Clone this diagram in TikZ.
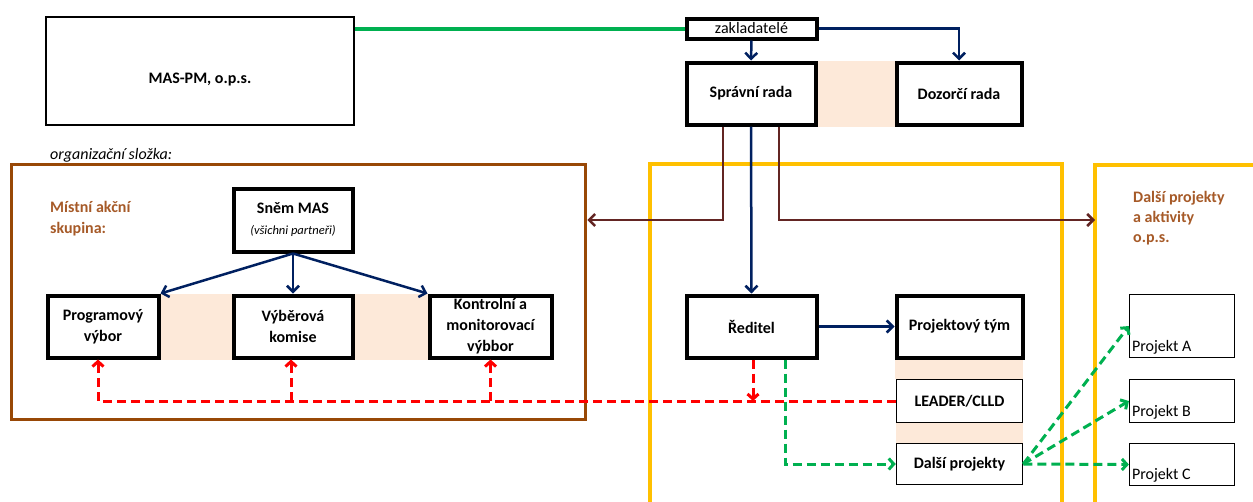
\documentclass[tikz,border=0pt]{standalone}
\usepackage{fontspec}
\setmainfont{Carlito}
\usetikzlibrary{arrows.meta,backgrounds}

\definecolor{navy}{RGB}{0,32,96}
\definecolor{boxbrown}{RGB}{152,72,6}
\definecolor{darkbrown}{RGB}{99,37,35}
\definecolor{headbrown}{RGB}{166,90,40}
\definecolor{gold}{RGB}{255,192,0}
\definecolor{peach}{RGB}{253,233,217}
\definecolor{mygreen}{RGB}{0,176,80}

\begin{document}
\begin{tikzpicture}[x=1pt,y=-1pt,
    box/.style={draw,line width=4pt,align=center,inner sep=0pt,font=\bfseries},
    thinbox/.style={draw,line width=1.5pt,inner sep=0pt,font=\bfseries},
    projbox/.style={draw,line width=1.2pt,minimum width=105pt,inner sep=0pt},
    navyline/.style={navy,line width=2.5pt,-{Straight Barb[length=6pt,width=12pt]}},
    brownline/.style={darkbrown,line width=2.5pt,-{Straight Barb[length=6pt,width=12pt]}},
    reddash/.style={red,line width=3pt,dash pattern=on 9pt off 5pt,-{Straight Barb[length=5pt,width=11pt]}},
    greendash/.style={mygreen,line width=3pt,dash pattern=on 9pt off 5pt,-{Straight Barb[length=5pt,width=11pt]}},
    heading/.style={text=headbrown,align=left,inner sep=0pt}]
        \fontsize{16}{21}\selectfont
        \useasboundingbox (0,0) rectangle (1253,501);

        % o.p.s.
        \node [draw,line width=1.5pt,minimum width=308pt,minimum height=108pt,
               label={[yshift=-9pt,font=\bfseries]center:MAS-PM, o.p.s.}] (maspm) at (200,71) {};
        \node [box,font=\mdseries,minimum width=130pt,minimum height=20pt] (zakl) at (751.5,28.5) {zakladatelé};
        \node [box,minimum width=129pt,minimum height=62pt] (sprava) at (751,93.5) {Správní rada};
        \node [box,minimum width=125pt,minimum height=62pt] (dozor) at (959,93.5) {Dozorčí rada};

        % frames
        \node [draw=boxbrown,line width=3.5pt,minimum width=574pt,minimum height=255pt] (mas) at (298.5,292) {};
        \draw [gold,line width=3.5pt] (650,510) -- (650,164) -- (1062,164) -- (1062,510);
        \draw [gold,line width=3.5pt] (1095,510) -- (1095,165) -- (1260,165);
        \coordinate (opsleft) at (1095,220);
        \coordinate (level)   at (0,220);

        % headings
        \node [anchor=base west,inner sep=0pt,font=\itshape] (org) at (50,159) {organizační složka:};
        \node [heading,anchor=north west,font=\bfseries\fontsize{16}{21}\selectfont] (mastitle) at (50,201) {Místní akční\\skupina:};
        \node [heading,anchor=north west,font=\bfseries\fontsize{16}{20}\selectfont] (opstitle) at (1133,191) {Další projekty\\a aktivity\\o.p.s.};

        % MAS
        \node [box,minimum width=119pt,minimum height=63pt] (snem) at (293,220)
              {Sněm MAS\\{\mdseries\itshape\fontsize{12.5}{12.5}\selectfont (všichni partneři)}};
        \node [box,minimum width=111pt,minimum height=62pt] (prog) at (103,326.5) {Programový\\výbor};
        \node [box,minimum width=119pt,minimum height=62pt] (vyber) at (293,326.5) {Výběrová\\komise};
        \node [box,minimum width=122pt,minimum height=62pt] (kontr) at (490.5,326.5) {Kontrolní a\\monitorovací\\výbbor};

        % office
        \node [box,minimum width=130pt,minimum height=62pt] (reditel) at (751.5,326.5) {Ředitel};
        \node [box,minimum width=126pt,minimum height=62pt] (tym) at (959.5,326.5) {Projektový tým};
        \node [thinbox,minimum width=126pt,minimum height=43pt] (leader) at (959.5,401) {LEADER/CLLD};
        \node [thinbox,minimum width=126pt,minimum height=41pt] (dalsi) at (959.5,464) {Další projekty};

        % projects
        \node [projbox,minimum height=63pt,label={[anchor=south west,inner sep=0pt,xshift=3pt,yshift=4pt]south west:Projekt A}] (projA) at (1182,326) {};
        \node [projbox,minimum height=43pt,label={[anchor=south west,inner sep=0pt,xshift=3pt,yshift=4pt]south west:Projekt B}] (projB) at (1182,401) {};
        \node [projbox,minimum height=42pt,label={[anchor=south west,inner sep=0pt,xshift=3pt,yshift=4pt]south west:Projekt C}] (projC) at (1182,464.5) {};

        % peach gaps
        \begin{scope}[on background layer]
            \fill [peach] (sprava.north east) rectangle (dozor.south west);
            \fill [peach] (prog.north east) rectangle (vyber.south west);
            \fill [peach] (vyber.north east) rectangle (kontr.south west);
            \fill [peach] (tym.south west) rectangle (leader.north east);
            \fill [peach] (leader.south west) rectangle (dalsi.north east);
        \end{scope}

        % founders
        \draw [mygreen,line width=4pt] (maspm.east |- zakl.west) -- (zakl.west);
        \draw [navyline] (zakl.south) -- (sprava.north);
        \draw [navyline] (zakl.east) -| (dozor.north);

        % board
        \draw [brownline] ([xshift=-28pt]sprava.south) |- (mas.east |- level);
        \draw [brownline] ([xshift=28pt]sprava.south) |- (opsleft);
        \draw [navyline] (sprava.south) -- (reditel.north);
        \draw [navyline] (reditel.east) -- (tym.west);

        % assembly
        \foreach \t in {prog.north east,vyber.north,kontr.north west}
            \draw [navyline] (snem.south) -- (\t);

        % leader
        \draw [reddash] (leader.west) -| ([xshift=-5pt]prog.south);
        \draw [reddash] ([xshift=-2pt]vyber.south |- leader.west) -- ([xshift=-2pt]vyber.south);
        \draw [reddash] (kontr.south |- leader.west) -- (kontr.south);
        \draw [reddash] ([xshift=1.5pt]reditel.south) -- ([xshift=1.5pt]reditel.south |- leader.west);

        % other projects
        \draw [greendash] ([xshift=33.5pt]reditel.south) |- (dalsi.west);
        \foreach \p in {projA,projB,projC}
            \draw [greendash] (dalsi.east) -- (\p.west);

    \end{tikzpicture}
\end{document}
